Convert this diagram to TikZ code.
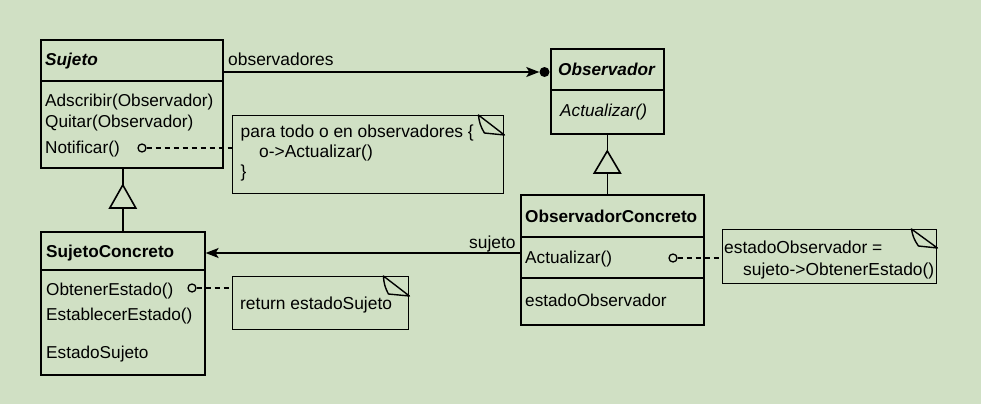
\documentclass[tikz,border=0pt]{standalone}
\usepackage{fontspec}
\setmainfont{Liberation Sans}
\usetikzlibrary{arrows.meta,calc}
\definecolor{bg}{RGB}{208,224,196}
\begin{document}
\begin{tikzpicture}[x=1pt,y=-1pt,
  box/.style={draw,line width=1.6pt,rectangle,inner sep=0pt,anchor=north west},
  divider/.style={line width=1.6pt},
  ctext/.style={anchor=base west,inner sep=0pt,font=\fontsize{17.2}{20}\selectfont},
  ntext/.style={anchor=base west,inner sep=0pt,font=\fontsize{17.4}{20}\selectfont},
  port/.style={circle,draw,line width=1.3pt,fill=bg,minimum size=8pt,inner sep=0pt},
  noteline/.style={line width=1.4pt,dash pattern=on 5pt off 4pt},
  link/.style={line width=1.6pt},
  inhtri/.style={line width=1.6pt,fill=bg},
  foldline/.style={line width=1.4pt,line join=round}]
\fill[bg] (0,0) rectangle (981,404);
\useasboundingbox (0,0) rectangle (981,404);

% ---- Sujeto
\node[box,minimum width=182pt,minimum height=128pt] (sujeto) at (40,39) {};
\draw[divider] (sujeto.west |- 0,81) -- (sujeto.east |- 0,81);
\node[ctext] (sujT) at (45,66) {\bfseries\itshape Sujeto};
\node[ctext] (sujA) at (45,106) {Adscribir(Observador)};
\node[ctext] (sujQ) at (45,127) {Quitar(Observador)};
\node[ctext] (sujN) at (45,153) {Notificar()};

% ---- Observador
\node[box,minimum width=113pt,minimum height=85pt] (obs) at (550,48) {};
\draw[divider] (obs.west |- 0,90) -- (obs.east |- 0,90);
\node[ctext] (obsT) at (558,75) {\bfseries\itshape Observador};
\node[ctext] (obsA) at (560,116) {\itshape Actualizar()};

% ---- ObservadorConcreto
\node[box,minimum width=183pt,minimum height=130pt] (oc) at (520,194) {};
\draw[divider] (oc.west |- 0,237) -- (oc.east |- 0,237);
\draw[divider] (oc.west |- 0,278) -- (oc.east |- 0,278);
\node[ctext] (ocT) at (525,222.5) {\bfseries ObservadorConcreto};
\node[ctext] (ocA) at (525,263) {Actualizar()};
\node[ctext] (ocE) at (525,306) {estadoObservador};

% ---- SujetoConcreto
\node[box,minimum width=164pt,minimum height=143pt] (sc) at (40,231) {};
\draw[divider] (sc.west |- 0,270) -- (sc.east |- 0,270);
\node[ctext] (scT) at (46,257) {\bfseries SujetoConcreto};
\node[ctext] (scO) at (46,295) {ObtenerEstado()};
\node[ctext] (scE) at (46,320) {EstablecerEstado()};
\node[ctext] (scS) at (46,358) {EstadoSujeto};

% ---- notes
\node[box,line width=1.4pt,minimum width=271pt,minimum height=78pt] (n1) at (232,115) {};
\draw[foldline] ($(n1.north east)+(-26,0)$) -- ++(26,20) -- ++(-20,-2) to[bend left=12] cycle;
\node[ntext] (n1a) at (240.5,137) {para todo o en observadores \{};
\node[ntext] (n1b) at (259,157) {o->Actualizar()};
\node[ntext] (n1c) at (240.5,177) {\}};

\node[box,line width=1.4pt,minimum width=176pt,minimum height=53pt] (n2) at (232,276) {};
\draw[foldline] ($(n2.north east)+(-26,0)$) -- ++(26,20) -- ++(-21,-2) to[bend left=12] cycle;
\node[ntext] (n2a) at (240,309) {return estadoSujeto};

\node[box,line width=1.4pt,minimum width=214pt,minimum height=54pt] (n3) at (722,229) {};
\draw[foldline] ($(n3.north east)+(-26,0)$) -- ++(26,19) -- ++(-19,-2) to[bend left=12] cycle;
\node[ntext] (n3a) at (724,253) {estadoObservador =};
\node[ntext] (n3b) at (743,275) {sujeto->ObtenerEstado()};

% ---- ports and dashed note links
\node[port] (p1) at (142,148) {};
\draw[noteline] (p1.east) -- (n1.west |- p1);
\node[port] (p2) at (192,288) {};
\draw[noteline] (p2.east) -- (n2.west |- p2);
\node[port] (p3) at (673,258) {};
\draw[noteline] (p3.east) -- (n3.west |- p3);

% ---- association observadores
\node[circle,fill=black,minimum size=10pt,inner sep=0pt] (dot) at (544.5,72) {};
\draw[link,-{Stealth[length=13pt,width=10pt,inset=3pt]}] (sujeto.east |- dot) -- (dot.west);
\node[ntext] (lobs) at (228,65) {observadores};

% ---- association sujeto
\coordinate (sjy) at (0,253);
\draw[link,-{Stealth[length=13pt,width=10pt,inset=3pt]}] (oc.west |- sjy) -- (sc.east |- sjy);
\node[ntext] (lsuj) at (469,248.3) {sujeto};

% ---- inheritance Sujeto <- SujetoConcreto
\coordinate (t1) at (sc.north |- 0,208);
\draw[link] (sc.north) -- (t1);
\draw[link] (t1 |- 0,185) -- (sujeto.south -| t1);
\draw[inhtri] ($(t1)+(-13,0)$) -- ($(t1)+(13,0)$) -- ($(t1)+(0,-23)$) -- cycle;

% ---- inheritance Observador <- ObservadorConcreto
\coordinate (t2) at (obs.south |- 0,173);
\draw[link] (oc.north -| t2) -- (t2);
\draw[link] (t2 |- 0,151) -- (obs.south);
\draw[inhtri] ($(t2)+(-13,0)$) -- ($(t2)+(13,0)$) -- ($(t2)+(0,-22)$) -- cycle;
\end{tikzpicture}
\end{document}
